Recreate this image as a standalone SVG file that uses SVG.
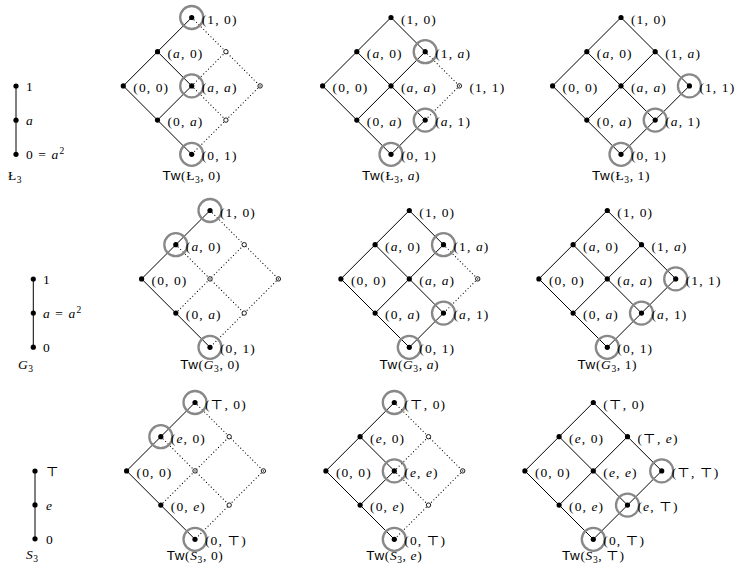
<svg xmlns="http://www.w3.org/2000/svg" width="740" height="570" viewBox="0 0 740 570">
<style>
.e{stroke:#000;stroke-width:1;fill:none}
.d{stroke:#000;stroke-width:1.2;fill:none;stroke-linecap:round;stroke-dasharray:0 3.4}
.n{fill:#000}
.o{fill:#fff;stroke:#000;stroke-width:0.9}
.h{fill:none;stroke:#888;stroke-width:2.3}
.t{font-family:"Liberation Serif","DejaVu Serif",serif;font-size:13.5px;letter-spacing:1.1px;fill:#000}
.tt{font-family:"Liberation Serif","DejaVu Serif",serif;font-size:13.5px;letter-spacing:0.6px;fill:#000}
.i{font-style:italic}
.sf{font-family:"Liberation Sans",sans-serif}
.sb{font-size:9.5px}
</style>
<rect width="740" height="570" fill="#fff"/>

<!-- chains -->
<g id="chain-L3">
 <g id="chain-L3-edges"><line class="e" x1="16" y1="86" x2="16" y2="154.3"/></g>
 <g id="L3-1"><circle class="n" cx="16" cy="86" r="2.6"/><text class="t" x="26" y="91">1</text></g>
 <g id="L3-a"><circle class="n" cx="16" cy="120.2" r="2.6"/><text class="t" x="26" y="125.2"><tspan class="i">a</tspan></text></g>
 <g id="L3-0"><circle class="n" cx="16" cy="154.3" r="2.6"/><text class="t" x="26" y="159.3">0 = <tspan class="i">a</tspan><tspan class="sb" dy="-5">2</tspan></text></g>
 <text class="tt" x="8" y="180">Ł<tspan class="sb" dy="3">3</tspan></text>
</g>
<g id="chain-G3">
 <g id="chain-G3-edges"><line class="e" x1="33.3" y1="279" x2="33.3" y2="347.2"/></g>
 <g id="G3-1"><circle class="n" cx="33.3" cy="279" r="2.6"/><text class="t" x="43" y="284">1</text></g>
 <g id="G3-a"><circle class="n" cx="33.3" cy="313.1" r="2.6"/><text class="t" x="43" y="318.1"><tspan class="i">a</tspan> = <tspan class="i">a</tspan><tspan class="sb" dy="-5">2</tspan></text></g>
 <g id="G3-0"><circle class="n" cx="33.3" cy="347.2" r="2.6"/><text class="t" x="43" y="352.2">0</text></g>
 <text class="tt" x="18" y="369"><tspan class="i">G</tspan><tspan class="sb" dy="3">3</tspan></text>
</g>
<g id="chain-S3">
 <g id="chain-S3-edges"><line class="e" x1="35" y1="471" x2="35" y2="538.8"/></g>
 <g id="S3-top"><circle class="n" cx="35" cy="471" r="2.6"/><text class="t" x="46" y="476">⊤</text></g>
 <g id="S3-e"><circle class="n" cx="35" cy="504.9" r="2.6"/><text class="t" x="46" y="509.9"><tspan class="i">e</tspan></text></g>
 <g id="S3-0"><circle class="n" cx="35" cy="538.8" r="2.6"/><text class="t" x="46" y="543.8">0</text></g>
 <text class="tt" x="26" y="559"><tspan class="i">S</tspan><tspan class="sb" dy="3">3</tspan></text>
</g>

<!-- Tw(L3,0) type A -->
<g id="tw-L3-0" transform="translate(191.7,17.5)">
 <g id="tw-L3-0-edges">
  <path class="e" d="M0 0L-68.4 68.4L0 136.8M-34.2 34.2L0 68.4L-34.2 102.6"/>
  <path class="d" d="M0 0L68.4 68.4M68.4 68.4L34.2 102.6M34.2 102.6L0 136.8M0 68.4L34.2 34.2M0 68.4L34.2 102.6"/>
 </g>
 <g id="tw-L3-0-n00"><circle class="n" cx="-68.4" cy="68.4" r="2.6"/><text class="t" x="-58.4" y="74.4">(0, 0)</text></g>
 <g id="tw-L3-0-na0"><circle class="n" cx="-34.2" cy="34.2" r="2.6"/><text class="t" x="-24.2" y="40.2">(<tspan class="i">a</tspan>, 0)</text></g>
 <g id="tw-L3-0-n10"><circle class="h" cx="0" cy="0" r="11.5"/><circle class="n" cx="0" cy="0" r="2.6"/><text class="t" x="10" y="6">(1, 0)</text></g>
 <g id="tw-L3-0-n0a"><circle class="n" cx="-34.2" cy="102.6" r="2.6"/><text class="t" x="-24.2" y="108.6">(0, <tspan class="i">a</tspan>)</text></g>
 <g id="tw-L3-0-naa"><circle class="h" cx="0" cy="68.4" r="11.5"/><circle class="n" cx="0" cy="68.4" r="2.6"/><text class="t" x="10" y="74.4">(<tspan class="i">a</tspan>, <tspan class="i">a</tspan>)</text></g>
 <g id="tw-L3-0-n01"><circle class="h" cx="0" cy="136.8" r="11.5"/><circle class="n" cx="0" cy="136.8" r="2.6"/><text class="t" x="10" y="142.8">(0, 1)</text></g>
 <g id="tw-L3-0-n1a"><circle class="o" cx="34.2" cy="34.2" r="2.2"/></g>
 <g id="tw-L3-0-na1"><circle class="o" cx="34.2" cy="102.6" r="2.2"/></g>
 <g id="tw-L3-0-n11"><circle class="o" cx="68.4" cy="68.4" r="2.2"/><circle class="n" cx="68.4" cy="68.4" r="0.7"/></g>
 <text class="tt" x="0" y="162.5" text-anchor="middle"><tspan class="sf">Tw</tspan>(Ł<tspan class="sb" dy="3">3</tspan><tspan dy="-3">, 0)</tspan></text>
</g>

<!-- Tw(L3,a) type C -->
<g id="tw-L3-a" transform="translate(391,17.5)">
 <g id="tw-L3-a-edges">
  <path class="e" d="M-68.4 68.4L0 0L34.2 34.2M-68.4 68.4L0 136.8L34.2 102.6M-34.2 34.2L34.2 102.6M-34.2 102.6L34.2 34.2"/>
  <path class="d" d="M34.2 34.2L68.4 68.4M68.4 68.4L34.2 102.6"/>
 </g>
 <g id="tw-L3-a-n00"><circle class="n" cx="-68.4" cy="68.4" r="2.6"/><text class="t" x="-58.4" y="74.4">(0, 0)</text></g>
 <g id="tw-L3-a-na0"><circle class="n" cx="-34.2" cy="34.2" r="2.6"/><text class="t" x="-24.2" y="40.2">(<tspan class="i">a</tspan>, 0)</text></g>
 <g id="tw-L3-a-n10"><circle class="n" cx="0" cy="0" r="2.6"/><text class="t" x="10" y="6">(1, 0)</text></g>
 <g id="tw-L3-a-n0a"><circle class="n" cx="-34.2" cy="102.6" r="2.6"/><text class="t" x="-24.2" y="108.6">(0, <tspan class="i">a</tspan>)</text></g>
 <g id="tw-L3-a-naa"><circle class="n" cx="0" cy="68.4" r="2.6"/><text class="t" x="10" y="74.4">(<tspan class="i">a</tspan>, <tspan class="i">a</tspan>)</text></g>
 <g id="tw-L3-a-n1a"><circle class="h" cx="34.2" cy="34.2" r="11.5"/><circle class="n" cx="34.2" cy="34.2" r="2.6"/><text class="t" x="44.2" y="40.2">(1, <tspan class="i">a</tspan>)</text></g>
 <g id="tw-L3-a-n01"><circle class="h" cx="0" cy="136.8" r="11.5"/><circle class="n" cx="0" cy="136.8" r="2.6"/><text class="t" x="10" y="142.8">(0, 1)</text></g>
 <g id="tw-L3-a-na1"><circle class="h" cx="34.2" cy="102.6" r="11.5"/><circle class="n" cx="34.2" cy="102.6" r="2.6"/><text class="t" x="44.2" y="108.6">(<tspan class="i">a</tspan>, 1)</text></g>
 <g id="tw-L3-a-n11"><circle class="o" cx="68.4" cy="68.4" r="2.2"/><circle class="n" cx="68.4" cy="68.4" r="0.7"/><text class="t" x="78.4" y="74.4">(1, 1)</text></g>
 <text class="tt" x="0" y="162.5" text-anchor="middle"><tspan class="sf">Tw</tspan>(Ł<tspan class="sb" dy="3">3</tspan><tspan dy="-3">, </tspan><tspan class="i">a</tspan>)</text>
</g>

<!-- Tw(L3,1) type D -->
<g id="tw-L3-1" transform="translate(621,17.5)">
 <g id="tw-L3-1-edges">
  <path class="e" d="M-68.4 68.4L0 0L68.4 68.4L0 136.8ZM-34.2 34.2L34.2 102.6M-34.2 102.6L34.2 34.2"/>
 </g>
 <g id="tw-L3-1-n00"><circle class="n" cx="-68.4" cy="68.4" r="2.6"/><text class="t" x="-58.4" y="74.4">(0, 0)</text></g>
 <g id="tw-L3-1-na0"><circle class="n" cx="-34.2" cy="34.2" r="2.6"/><text class="t" x="-24.2" y="40.2">(<tspan class="i">a</tspan>, 0)</text></g>
 <g id="tw-L3-1-n10"><circle class="n" cx="0" cy="0" r="2.6"/><text class="t" x="10" y="6">(1, 0)</text></g>
 <g id="tw-L3-1-n0a"><circle class="n" cx="-34.2" cy="102.6" r="2.6"/><text class="t" x="-24.2" y="108.6">(0, <tspan class="i">a</tspan>)</text></g>
 <g id="tw-L3-1-naa"><circle class="n" cx="0" cy="68.4" r="2.6"/><text class="t" x="10" y="74.4">(<tspan class="i">a</tspan>, <tspan class="i">a</tspan>)</text></g>
 <g id="tw-L3-1-n1a"><circle class="n" cx="34.2" cy="34.2" r="2.6"/><text class="t" x="44.2" y="40.2">(1, <tspan class="i">a</tspan>)</text></g>
 <g id="tw-L3-1-n01"><circle class="h" cx="0" cy="136.8" r="11.5"/><circle class="n" cx="0" cy="136.8" r="2.6"/><text class="t" x="10" y="142.8">(0, 1)</text></g>
 <g id="tw-L3-1-na1"><circle class="h" cx="34.2" cy="102.6" r="11.5"/><circle class="n" cx="34.2" cy="102.6" r="2.6"/><text class="t" x="44.2" y="108.6">(<tspan class="i">a</tspan>, 1)</text></g>
 <g id="tw-L3-1-n11"><circle class="h" cx="68.4" cy="68.4" r="11.5"/><circle class="n" cx="68.4" cy="68.4" r="2.6"/><text class="t" x="78.4" y="74.4">(1, 1)</text></g>
 <text class="tt" x="0" y="162.5" text-anchor="middle"><tspan class="sf">Tw</tspan>(Ł<tspan class="sb" dy="3">3</tspan><tspan dy="-3">, 1)</tspan></text>
</g>

<!-- Tw(G3,0) type B -->
<g id="tw-G3-0" transform="translate(210,210.5)">
 <g id="tw-G3-0-edges">
  <path class="e" d="M0 0L-68.4 68.4L0 136.8"/>
  <path class="d" d="M0 0L68.4 68.4M68.4 68.4L0 136.8M-34.2 34.2L34.2 102.6M-34.2 102.6L34.2 34.2"/>
 </g>
 <g id="tw-G3-0-n00"><circle class="n" cx="-68.4" cy="68.4" r="2.6"/><text class="t" x="-58.4" y="74.4">(0, 0)</text></g>
 <g id="tw-G3-0-na0"><circle class="h" cx="-34.2" cy="34.2" r="11.5"/><circle class="n" cx="-34.2" cy="34.2" r="2.6"/><text class="t" x="-24.2" y="40.2">(<tspan class="i">a</tspan>, 0)</text></g>
 <g id="tw-G3-0-n10"><circle class="h" cx="0" cy="0" r="11.5"/><circle class="n" cx="0" cy="0" r="2.6"/><text class="t" x="10" y="6">(1, 0)</text></g>
 <g id="tw-G3-0-n0a"><circle class="n" cx="-34.2" cy="102.6" r="2.6"/><text class="t" x="-24.2" y="108.6">(0, <tspan class="i">a</tspan>)</text></g>
 <g id="tw-G3-0-n01"><circle class="h" cx="0" cy="136.8" r="11.5"/><circle class="n" cx="0" cy="136.8" r="2.6"/><text class="t" x="10" y="142.8">(0, 1)</text></g>
 <g id="tw-G3-0-naa"><circle class="o" cx="0" cy="68.4" r="2.2"/><circle class="n" cx="0" cy="68.4" r="0.7"/></g>
 <g id="tw-G3-0-n1a"><circle class="o" cx="34.2" cy="34.2" r="2.2"/></g>
 <g id="tw-G3-0-na1"><circle class="o" cx="34.2" cy="102.6" r="2.2"/></g>
 <g id="tw-G3-0-n11"><circle class="o" cx="68.4" cy="68.4" r="2.2"/><circle class="n" cx="68.4" cy="68.4" r="0.7"/></g>
 <text class="tt" x="0" y="158.5" text-anchor="middle"><tspan class="sf">Tw</tspan>(<tspan class="i">G</tspan><tspan class="sb" dy="3">3</tspan><tspan dy="-3">, 0)</tspan></text>
</g>

<!-- Tw(G3,a) type C -->
<g id="tw-G3-a" transform="translate(409.3,210.5)">
 <g id="tw-G3-a-edges">
  <path class="e" d="M-68.4 68.4L0 0L34.2 34.2M-68.4 68.4L0 136.8L34.2 102.6M-34.2 34.2L34.2 102.6M-34.2 102.6L34.2 34.2"/>
  <path class="d" d="M34.2 34.2L68.4 68.4M68.4 68.4L34.2 102.6"/>
 </g>
 <g id="tw-G3-a-n00"><circle class="n" cx="-68.4" cy="68.4" r="2.6"/><text class="t" x="-58.4" y="74.4">(0, 0)</text></g>
 <g id="tw-G3-a-na0"><circle class="n" cx="-34.2" cy="34.2" r="2.6"/><text class="t" x="-24.2" y="40.2">(<tspan class="i">a</tspan>, 0)</text></g>
 <g id="tw-G3-a-n10"><circle class="n" cx="0" cy="0" r="2.6"/><text class="t" x="10" y="6">(1, 0)</text></g>
 <g id="tw-G3-a-n0a"><circle class="n" cx="-34.2" cy="102.6" r="2.6"/><text class="t" x="-24.2" y="108.6">(0, <tspan class="i">a</tspan>)</text></g>
 <g id="tw-G3-a-naa"><circle class="n" cx="0" cy="68.4" r="2.6"/><text class="t" x="10" y="74.4">(<tspan class="i">a</tspan>, <tspan class="i">a</tspan>)</text></g>
 <g id="tw-G3-a-n1a"><circle class="h" cx="34.2" cy="34.2" r="11.5"/><circle class="n" cx="34.2" cy="34.2" r="2.6"/><text class="t" x="44.2" y="40.2">(1, <tspan class="i">a</tspan>)</text></g>
 <g id="tw-G3-a-n01"><circle class="h" cx="0" cy="136.8" r="11.5"/><circle class="n" cx="0" cy="136.8" r="2.6"/><text class="t" x="10" y="142.8">(0, 1)</text></g>
 <g id="tw-G3-a-na1"><circle class="h" cx="34.2" cy="102.6" r="11.5"/><circle class="n" cx="34.2" cy="102.6" r="2.6"/><text class="t" x="44.2" y="108.6">(<tspan class="i">a</tspan>, 1)</text></g>
 <g id="tw-G3-a-n11"><circle class="o" cx="68.4" cy="68.4" r="2.2"/><circle class="n" cx="68.4" cy="68.4" r="0.7"/></g>
 <text class="tt" x="0" y="158.5" text-anchor="middle"><tspan class="sf">Tw</tspan>(<tspan class="i">G</tspan><tspan class="sb" dy="3">3</tspan><tspan dy="-3">, </tspan><tspan class="i">a</tspan>)</text>
</g>

<!-- Tw(G3,1) type D -->
<g id="tw-G3-1" transform="translate(607.3,210.5)">
 <g id="tw-G3-1-edges">
  <path class="e" d="M-68.4 68.4L0 0L68.4 68.4L0 136.8ZM-34.2 34.2L34.2 102.6M-34.2 102.6L34.2 34.2"/>
 </g>
 <g id="tw-G3-1-n00"><circle class="n" cx="-68.4" cy="68.4" r="2.6"/><text class="t" x="-58.4" y="74.4">(0, 0)</text></g>
 <g id="tw-G3-1-na0"><circle class="n" cx="-34.2" cy="34.2" r="2.6"/><text class="t" x="-24.2" y="40.2">(<tspan class="i">a</tspan>, 0)</text></g>
 <g id="tw-G3-1-n10"><circle class="n" cx="0" cy="0" r="2.6"/><text class="t" x="10" y="6">(1, 0)</text></g>
 <g id="tw-G3-1-n0a"><circle class="n" cx="-34.2" cy="102.6" r="2.6"/><text class="t" x="-24.2" y="108.6">(0, <tspan class="i">a</tspan>)</text></g>
 <g id="tw-G3-1-naa"><circle class="n" cx="0" cy="68.4" r="2.6"/><text class="t" x="10" y="74.4">(<tspan class="i">a</tspan>, <tspan class="i">a</tspan>)</text></g>
 <g id="tw-G3-1-n1a"><circle class="n" cx="34.2" cy="34.2" r="2.6"/><text class="t" x="44.2" y="40.2">(1, <tspan class="i">a</tspan>)</text></g>
 <g id="tw-G3-1-n01"><circle class="h" cx="0" cy="136.8" r="11.5"/><circle class="n" cx="0" cy="136.8" r="2.6"/><text class="t" x="10" y="142.8">(0, 1)</text></g>
 <g id="tw-G3-1-na1"><circle class="h" cx="34.2" cy="102.6" r="11.5"/><circle class="n" cx="34.2" cy="102.6" r="2.6"/><text class="t" x="44.2" y="108.6">(<tspan class="i">a</tspan>, 1)</text></g>
 <g id="tw-G3-1-n11"><circle class="h" cx="68.4" cy="68.4" r="11.5"/><circle class="n" cx="68.4" cy="68.4" r="2.6"/><text class="t" x="78.4" y="74.4">(1, 1)</text></g>
 <text class="tt" x="0" y="158.5" text-anchor="middle"><tspan class="sf">Tw</tspan>(<tspan class="i">G</tspan><tspan class="sb" dy="3">3</tspan><tspan dy="-3">, 1)</tspan></text>
</g>

<!-- Tw(S3,0) type B -->
<g id="tw-S3-0" transform="translate(195,402.5)">
 <g id="tw-S3-0-edges">
  <path class="e" d="M0 0L-68.4 68.4L0 136.8"/>
  <path class="d" d="M0 0L68.4 68.4M68.4 68.4L0 136.8M-34.2 34.2L34.2 102.6M-34.2 102.6L34.2 34.2"/>
 </g>
 <g id="tw-S3-0-n00"><circle class="n" cx="-68.4" cy="68.4" r="2.6"/><text class="t" x="-58.4" y="74.4">(0, 0)</text></g>
 <g id="tw-S3-0-ne0"><circle class="h" cx="-34.2" cy="34.2" r="11.5"/><circle class="n" cx="-34.2" cy="34.2" r="2.6"/><text class="t" x="-24.2" y="40.2">(<tspan class="i">e</tspan>, 0)</text></g>
 <g id="tw-S3-0-nT0"><circle class="h" cx="0" cy="0" r="11.5"/><circle class="n" cx="0" cy="0" r="2.6"/><text class="t" x="10" y="6">(⊤, 0)</text></g>
 <g id="tw-S3-0-n0e"><circle class="n" cx="-34.2" cy="102.6" r="2.6"/><text class="t" x="-24.2" y="108.6">(0, <tspan class="i">e</tspan>)</text></g>
 <g id="tw-S3-0-n0T"><circle class="h" cx="0" cy="136.8" r="11.5"/><circle class="n" cx="0" cy="136.8" r="2.6"/><text class="t" x="10" y="142">(0, ⊤)</text></g>
 <g id="tw-S3-0-nee"><circle class="o" cx="0" cy="68.4" r="2.2"/><circle class="n" cx="0" cy="68.4" r="0.7"/></g>
 <g id="tw-S3-0-nTe"><circle class="o" cx="34.2" cy="34.2" r="2.2"/></g>
 <g id="tw-S3-0-neT"><circle class="o" cx="34.2" cy="102.6" r="2.2"/></g>
 <g id="tw-S3-0-nTT"><circle class="o" cx="68.4" cy="68.4" r="2.2"/><circle class="n" cx="68.4" cy="68.4" r="0.7"/></g>
 <text class="tt" x="0" y="157.5" text-anchor="middle"><tspan class="sf">Tw</tspan>(<tspan class="i">S</tspan><tspan class="sb" dy="3">3</tspan><tspan dy="-3">, 0)</tspan></text>
</g>

<!-- Tw(S3,e) type A -->
<g id="tw-S3-e" transform="translate(394.3,402.5)">
 <g id="tw-S3-e-edges">
  <path class="e" d="M0 0L-68.4 68.4L0 136.8M-34.2 34.2L0 68.4L-34.2 102.6"/>
  <path class="d" d="M0 0L68.4 68.4M68.4 68.4L34.2 102.6M34.2 102.6L0 136.8M0 68.4L34.2 34.2M0 68.4L34.2 102.6"/>
 </g>
 <g id="tw-S3-e-n00"><circle class="n" cx="-68.4" cy="68.4" r="2.6"/><text class="t" x="-58.4" y="74.4">(0, 0)</text></g>
 <g id="tw-S3-e-ne0"><circle class="n" cx="-34.2" cy="34.2" r="2.6"/><text class="t" x="-24.2" y="40.2">(<tspan class="i">e</tspan>, 0)</text></g>
 <g id="tw-S3-e-nT0"><circle class="h" cx="0" cy="0" r="11.5"/><circle class="n" cx="0" cy="0" r="2.6"/><text class="t" x="10" y="6">(⊤, 0)</text></g>
 <g id="tw-S3-e-n0e"><circle class="n" cx="-34.2" cy="102.6" r="2.6"/><text class="t" x="-24.2" y="108.6">(0, <tspan class="i">e</tspan>)</text></g>
 <g id="tw-S3-e-nee"><circle class="h" cx="0" cy="68.4" r="11.5"/><circle class="n" cx="0" cy="68.4" r="2.6"/><text class="t" x="10" y="74.4">(<tspan class="i">e</tspan>, <tspan class="i">e</tspan>)</text></g>
 <g id="tw-S3-e-n0T"><circle class="h" cx="0" cy="136.8" r="11.5"/><circle class="n" cx="0" cy="136.8" r="2.6"/><text class="t" x="10" y="142">(0, ⊤)</text></g>
 <g id="tw-S3-e-nTe"><circle class="o" cx="34.2" cy="34.2" r="2.2"/></g>
 <g id="tw-S3-e-neT"><circle class="o" cx="34.2" cy="102.6" r="2.2"/></g>
 <g id="tw-S3-e-nTT"><circle class="o" cx="68.4" cy="68.4" r="2.2"/><circle class="n" cx="68.4" cy="68.4" r="0.7"/></g>
 <text class="tt" x="0" y="157.5" text-anchor="middle"><tspan class="sf">Tw</tspan>(<tspan class="i">S</tspan><tspan class="sb" dy="3">3</tspan><tspan dy="-3">, </tspan><tspan class="i">e</tspan>)</text>
</g>

<!-- Tw(S3,T) type D -->
<g id="tw-S3-T" transform="translate(593.3,402.5)">
 <g id="tw-S3-T-edges">
  <path class="e" d="M-68.4 68.4L0 0L68.4 68.4L0 136.8ZM-34.2 34.2L34.2 102.6M-34.2 102.6L34.2 34.2"/>
 </g>
 <g id="tw-S3-T-n00"><circle class="n" cx="-68.4" cy="68.4" r="2.6"/><text class="t" x="-58.4" y="74.4">(0, 0)</text></g>
 <g id="tw-S3-T-ne0"><circle class="n" cx="-34.2" cy="34.2" r="2.6"/><text class="t" x="-24.2" y="40.2">(<tspan class="i">e</tspan>, 0)</text></g>
 <g id="tw-S3-T-nT0"><circle class="n" cx="0" cy="0" r="2.6"/><text class="t" x="10" y="6">(⊤, 0)</text></g>
 <g id="tw-S3-T-n0e"><circle class="n" cx="-34.2" cy="102.6" r="2.6"/><text class="t" x="-24.2" y="108.6">(0, <tspan class="i">e</tspan>)</text></g>
 <g id="tw-S3-T-nee"><circle class="n" cx="0" cy="68.4" r="2.6"/><text class="t" x="10" y="74.4">(<tspan class="i">e</tspan>, <tspan class="i">e</tspan>)</text></g>
 <g id="tw-S3-T-nTe"><circle class="n" cx="34.2" cy="34.2" r="2.6"/><text class="t" x="44.2" y="40.2">(⊤, <tspan class="i">e</tspan>)</text></g>
 <g id="tw-S3-T-n0T"><circle class="h" cx="0" cy="136.8" r="11.5"/><circle class="n" cx="0" cy="136.8" r="2.6"/><text class="t" x="10" y="142">(0, ⊤)</text></g>
 <g id="tw-S3-T-neT"><circle class="h" cx="34.2" cy="102.6" r="11.5"/><circle class="n" cx="34.2" cy="102.6" r="2.6"/><text class="t" x="44.2" y="108.6">(<tspan class="i">e</tspan>, ⊤)</text></g>
 <g id="tw-S3-T-nTT"><circle class="h" cx="68.4" cy="68.4" r="11.5"/><circle class="n" cx="68.4" cy="68.4" r="2.6"/><text class="t" x="78.4" y="74.4">(⊤, ⊤)</text></g>
 <text class="tt" x="0" y="157.5" text-anchor="middle"><tspan class="sf">Tw</tspan>(<tspan class="i">S</tspan><tspan class="sb" dy="3">3</tspan><tspan dy="-3">, ⊤)</tspan></text>
</g>
</svg>
